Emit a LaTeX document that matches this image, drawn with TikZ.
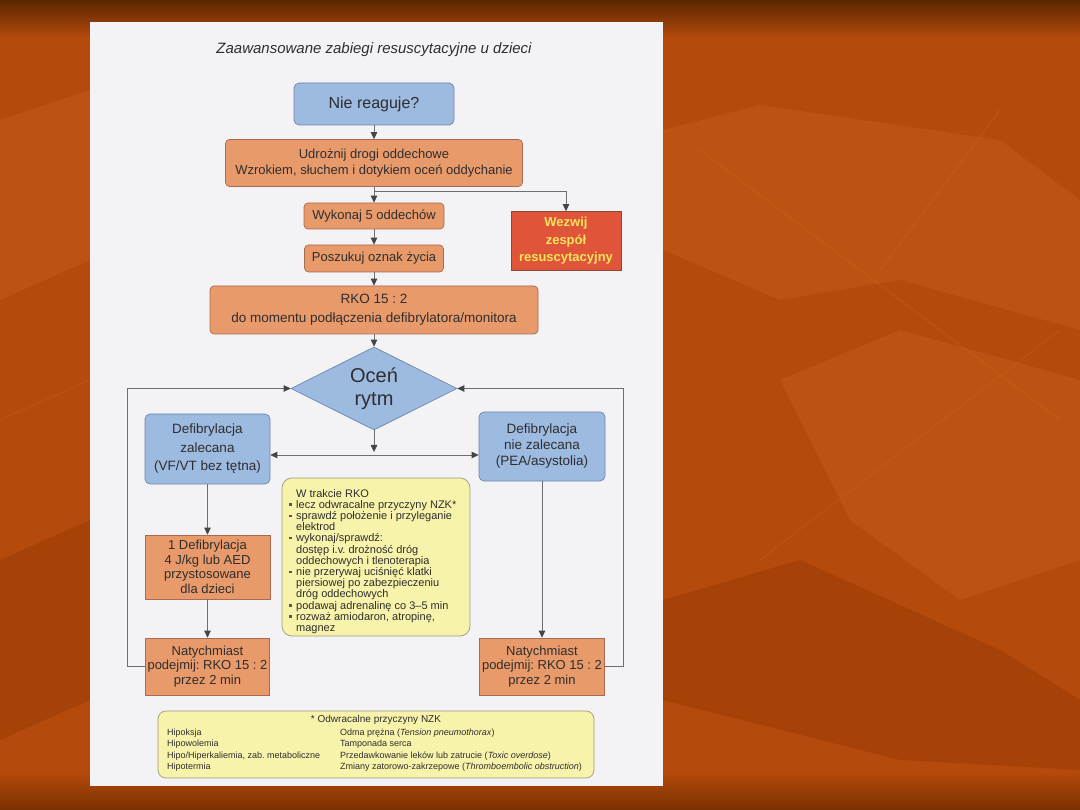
\documentclass[tikz,border=0pt]{standalone}
\usepackage{fontspec}
\setmainfont{Liberation Sans}
\usetikzlibrary{shapes.geometric,arrows.meta,calc}

\definecolor{bgmid}{HTML}{B44A0B}
\definecolor{bgtop}{HTML}{5A2600}
\definecolor{bgbot}{HTML}{7A3000}
\definecolor{bglight}{HTML}{CC6620}
\definecolor{bgdark}{HTML}{8E3404}
\definecolor{paper}{HTML}{F3F3F5}
\definecolor{bluef}{HTML}{9DBAE0}
\definecolor{blued}{HTML}{6F86AC}
\definecolor{orf}{HTML}{E99A6A}
\definecolor{ord}{HTML}{A86A50}
\definecolor{redf}{HTML}{E0553A}
\definecolor{redd}{HTML}{8A4A3A}
\definecolor{yeltx}{HTML}{F8E45A}
\definecolor{yelf}{HTML}{F7F3AA}
\definecolor{yeld}{HTML}{9C9A7E}
\definecolor{ink}{HTML}{2E2E2E}
\definecolor{linec}{HTML}{6E6E6E}
\definecolor{tipc}{HTML}{454545}

\newcommand{\bl}{\makebox[7pt][l]{\textcolor{ink!80}{\rule[2.6pt]{2.4pt}{2.4pt}}}}
\newcommand{\ind}{\hspace*{7pt}}

\tikzset{
  box/.style={draw=ord, fill=orf, line width=0.7pt, text=ink, align=center,
    inner sep=0pt, font=\fontsize{13}{15.5}\selectfont},
  rbox/.style={box, rounded corners=4pt},
  bbox/.style={box, draw=blued, fill=bluef, rounded corners=5pt},
  ybox/.style={draw=yeld, fill=yelf, line width=0.7pt, rounded corners=10pt, inner sep=0pt},
  arr/.style={draw=linec, line width=0.8pt, -{Triangle[length=7pt,width=6.5pt,color=tipc]}},
  arrb/.style={draw=linec, line width=0.8pt, {Triangle[length=7pt,width=6.5pt,color=tipc]}-{Triangle[length=7pt,width=6.5pt,color=tipc]}},
  crow/.style={anchor=base west, inner sep=0pt, font=\fontsize{9}{11}\selectfont, text=ink},
  leafl/.style={fill=bglight, opacity=0.35, draw=none},
  leafd/.style={fill=bgdark, opacity=0.35, draw=none}
}

\begin{document}
\frenchspacing
\begin{tikzpicture}[x=1pt,y=-1pt]
\useasboundingbox (0,0) rectangle (1080,810);
% slide background
\fill[bgmid] (0,0) rectangle (1080,810);
\shade[top color=bgtop, bottom color=bgmid] (0,0) rectangle (1080,38);
\shade[top color=bgmid, bottom color=bgbot] (0,772) rectangle (1080,810);
\fill[leafl] (663,130) -- (760,105) -- (1000,140) -- (1080,200) -- (1080,330) -- (900,280) -- (780,300) -- (663,250) -- cycle;
\fill[leafl] (780,380) -- (900,330) -- (1080,380) -- (1080,560) -- (960,600) -- (850,520) -- cycle;
\fill[leafd] (663,600) -- (800,560) -- (1000,650) -- (1080,700) -- (1080,770) -- (900,760) -- (663,700) -- cycle;
\fill[leafl] (0,120) -- (90,90) -- (90,260) -- (0,300) -- cycle;
\fill[leafd] (0,560) -- (90,520) -- (90,700) -- (0,740) -- cycle;
\draw[bglight, opacity=0.3, line width=1.5pt] (700,150) -- (1060,420);
\draw[bglight, opacity=0.3, line width=1.5pt] (880,270) -- (1000,110);
\draw[bglight, opacity=0.25, line width=1.5pt] (760,560) -- (1060,330);
\draw[bglight, opacity=0.25, line width=1.5pt] (0,420) -- (90,380);
% scanned page
\fill[paper] (90,22) rectangle (663,786);

% title
\node[font=\fontsize{15}{18}\selectfont\itshape, text=ink] (ttl) at (374,50) {Zaawansowane zabiegi resuscytacyjne u dzieci};

% top chain
\node[bbox, minimum width=160pt, minimum height=42pt, font=\fontsize{16}{18}\selectfont] (nie) at (374,104) {Nie reaguje?};
\node[rbox, minimum width=297pt, minimum height=47pt] (udr) at (374,163) {Udrożnij drogi oddechowe\\Wzrokiem, słuchem i dotykiem oceń oddychanie};
\node[rbox, minimum width=140pt, minimum height=26pt] (wyk) at (374,216) {Wykonaj 5 oddechów};
\node[rbox, minimum width=139pt, minimum height=27pt] (pos) at (374,258.5) {Poszukuj oznak życia};
\node[box, draw=redd, fill=redf, text=yeltx, font=\bfseries\fontsize{13}{17.5}\selectfont, minimum width=110pt, minimum height=59pt] (wez) at (566,241) {Wezwij\\zespół\\resuscytacyjny};
\node[rbox, minimum width=328pt, minimum height=48pt, font=\fontsize{13.5}{19}\selectfont] (rko) at (374,310) {RKO 15 : 2\\do momentu podłączenia defibrylatora/monitora};
\node[diamond, aspect=2, draw=blued, fill=bluef, line width=0.7pt, minimum width=166pt, minimum height=83pt, inner sep=0pt, text=ink, align=center, font=\fontsize{20}{23}\selectfont] (ocen) at (374,388.5) {Oceń\\rytm};

% branches
\node[bbox, minimum width=125pt, minimum height=70pt, font=\fontsize{13.5}{18.5}\selectfont] (lb) at (207.5,449) {Defibrylacja\\zalecana\\(VF/VT bez tętna)};
\node[bbox, minimum width=126pt, minimum height=69pt, font=\fontsize{13.5}{16}\selectfont] (rb) at (542,446.5) {Defibrylacja\\nie zalecana\\(PEA/asystolia)};
\node[box, minimum width=125pt, minimum height=64pt, font=\fontsize{13}{14.6}\selectfont] (ld) at (207.5,567) {1 Defibrylacja\\4 J/kg lub AED\\przystosowane\\dla dzieci};
\node[box, minimum width=124pt, minimum height=57pt, font=\fontsize{13}{14.6}\selectfont] (ln) at (207.5,666.5) {Natychmiast\\podejmij: RKO 15 : 2\\przez 2 min};
\node[box, minimum width=125pt, minimum height=57pt, font=\fontsize{13}{14.6}\selectfont] (rn) at (542,666.5) {Natychmiast\\podejmij: RKO 15 : 2\\przez 2 min};

% middle yellow box
\node[ybox, minimum width=188pt, minimum height=158pt] (ym) at (376,557) {};
\node[anchor=north west, inner sep=0pt, align=left, text=ink, font=\fontsize{11}{11.2}\selectfont] (ymt) at (289,489) {%
\ind W trakcie RKO\\
\bl lecz odwracalne przyczyny NZK*\\
\bl sprawdź położenie i przyleganie\\
\ind elektrod\\
\bl wykonaj/sprawdź:\\
\ind dostęp i.v. drożność dróg\\
\ind oddechowych i tlenoterapia\\
\bl nie przerywaj uciśnięć klatki\\
\ind piersiowej po zabezpieczeniu\\
\ind dróg oddechowych\\
\bl podawaj adrenalinę co 3–5 min\\
\bl rozważ amiodaron, atropinę,\\
\ind magnez};

% bottom yellow box
\node[ybox, rounded corners=8pt, minimum width=436pt, minimum height=67pt] (yb) at (376,744.5) {};
\node[inner sep=0pt, text=ink, font=\fontsize{10}{12}\selectfont] (ybt) at (376,719.5) {* Odwracalne przyczyny NZK};
\node[crow] (c1) at (167,735) {Hipoksja};
\node[crow] (c2) at (167,746.5) {Hipowolemia};
\node[crow] (c3) at (167,758) {Hipo/Hiperkaliemia, zab. metaboliczne};
\node[crow] (c4) at (167,769.5) {Hipotermia};
\node[crow] (d1) at (340,735) {Odma prężna (\textit{Tension pneumothorax})};
\node[crow] (d2) at (340,746.5) {Tamponada serca};
\node[crow] (d3) at (340,758) {Przedawkowanie leków lub zatrucie (\textit{Toxic overdose})};
\node[crow] (d4) at (340,769.5) {Zmiany zatorowo-zakrzepowe (\textit{Thromboembolic obstruction})};

% connectors
\draw[arr] (nie) -- (udr);
\draw[arr] (udr) -- (wyk);
\draw[arr] ($(udr.south)+(0,4.5)$) -| (wez.north);
\draw[arr] (wyk) -- (pos);
\draw[arr] (pos) -- (rko);
\draw[arr] (rko) -- (ocen);
\coordinate (j) at (374,452);
\coordinate (h) at (374,455);
\draw[arr] (ocen) -- (j);
\draw[arrb] (h -| lb.east) -- (h -| rb.west);
\draw[arr] (lb) -- (ld);
\draw[arr] (ld) -- (ln);
\draw[arr] (rb) -- (rn);
\coordinate (lx) at (127,389);
\coordinate (rx) at (623,389);
\draw[arr] (ln.west) -- (ln.west -| lx) |- (ocen.west);
\draw[arr] (rn.east) -- (rn.east -| rx) |- (ocen.east);
\end{tikzpicture}
\end{document}
